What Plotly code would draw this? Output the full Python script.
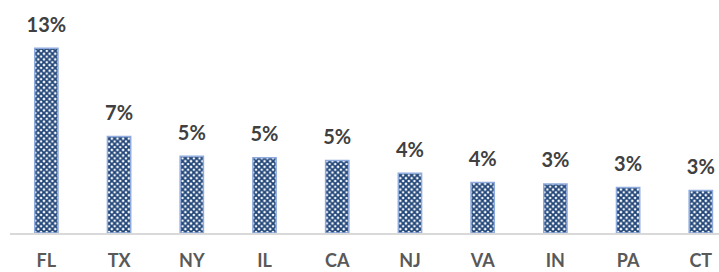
import plotly.graph_objects as go

states = ["FL", "TX", "NY", "IL", "CA", "NJ", "VA", "IN", "PA", "CT"]
shares = [0.130, 0.068, 0.054, 0.053, 0.051, 0.042, 0.0355, 0.0345, 0.032, 0.030]

fig = go.Figure()
fig.add_trace(go.Bar(
    x=states,
    y=shares,
    width=0.32,
    marker=dict(
        color="#1F4477",
        line=dict(color="#8FAADC", width=1.5),
        pattern=dict(shape="x", fgcolor="#1F4477", bgcolor="#FFFFFF",
                     size=4, solidity=0.7, fillmode="replace"),
    ),
    hoverinfo="skip",
))
fig.add_trace(go.Scatter(
    x=states,
    y=shares,
    mode="markers+text",
    marker=dict(size=17, opacity=0),
    texttemplate="%{y:.0%}",
    textposition="top center",
    cliponaxis=False,
    textfont=dict(family="Lato", size=20, color="#404040", weight="bold"),
    hoverinfo="skip",
))

fig.update_layout(
    width=719, height=272,
    margin=dict(l=10, r=0, t=0, b=39, autoexpand=False),
    plot_bgcolor="white", paper_bgcolor="white",
    showlegend=False,
    xaxis=dict(range=[-0.5, 9.25], showline=True, linecolor="#D9D9D9", linewidth=1.5,
               automargin=False, ticks="", ticklabelstandoff=11,
               tickfont=dict(family="Lato", size=18, color="#595959", weight="bold"),
               showgrid=False),
    yaxis=dict(range=[0, 0.164], visible=False, showgrid=False, automargin=False),
)

fig.write_html("out.html", config={"displayModeBar": False},
               post_script="document.body.style.margin='0';document.body.style.overflow='hidden';")
